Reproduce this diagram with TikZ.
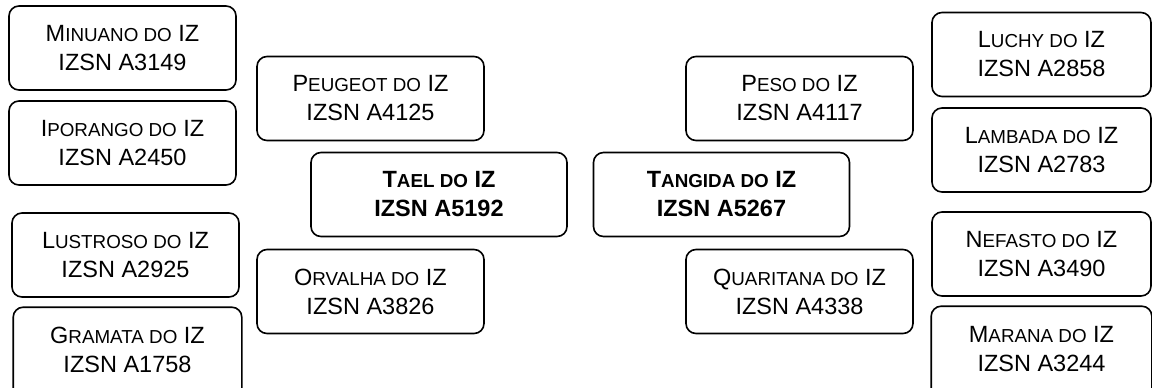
\documentclass[tikz,border=0pt]{standalone}
\usepackage{fontspec}
\setmainfont{Liberation Sans}
\newcommand\smc[1]{{\fontsize{9.4pt}{14.5pt}\selectfont #1}}
\tikzset{
  boxline/.style={draw, rounded corners=5pt, line width=0.8pt},
  box/.style={boxline, align=center,
    minimum width=113.5pt, minimum height=42pt, inner sep=0pt,
    font=\fontsize{11.75pt}{14.5pt}\selectfont},
  mainbox/.style={box, minimum width=128pt, font=\fontsize{11.75pt}{14.5pt}\selectfont\bfseries},
  rbox/.style={box, minimum width=109.5pt}
}
\begin{document}
\begin{tikzpicture}[x=0.5pt,y=-0.5pt]
\useasboundingbox (0,0) rectangle (1152,387);
% left column
\node[box] (minuano) at (122.5,48) {M\smc{INUANO DO} IZ\\IZSN A3149};
\node[box] (iporango) at (122.5,143) {I\smc{PORANGO DO} IZ\\IZSN A2450};
\node[box] (lustroso) at (125.5,255) {L\smc{USTROSO DO} IZ\\IZSN A2925};
\node[box, draw=none] (gramata) at (127.5,350) {G\smc{RAMATA DO} IZ\\IZSN A1758};
\draw[boxline] (gramata.north west) rectangle ([yshift=-10pt]gramata.south east);
% left middle
\node[box] (peugeot) at (370.5,98.5) {P\smc{EUGEOT DO} IZ\\IZSN A4125};
\node[box] (orvalha) at (370.5,291.5) {O\smc{RVALHA DO} IZ\\IZSN A3826};
\node[mainbox] (tael) at (439,194.5) {T\smc{AEL DO} IZ\\IZSN A5192};
% right middle
\node[mainbox] (tangida) at (721.5,194.5) {T\smc{ANGIDA DO} IZ\\IZSN A5267};
\node[box] (peso) at (799.5,98.5) {P\smc{ESO DO} IZ\\IZSN A4117};
\node[box] (quaritana) at (799.5,291.5) {Q\smc{UARITANA DO} IZ\\IZSN A4338};
% right column
\node[rbox] (luchy) at (1041.5,54.5) {L\smc{UCHY DO} IZ\\IZSN A2858};
\node[rbox] (lambada) at (1041.5,150) {L\smc{AMBADA DO} IZ\\IZSN A2783};
\node[rbox] (nefasto) at (1041.5,254) {N\smc{EFASTO DO} IZ\\IZSN A3490};
\node[rbox, draw=none] (marana) at (1041.5,349) {M\smc{ARANA DO} IZ\\IZSN A3244};
\draw[boxline] (marana.north west) rectangle ([yshift=-10pt]marana.south east);
\end{tikzpicture}
\end{document}
